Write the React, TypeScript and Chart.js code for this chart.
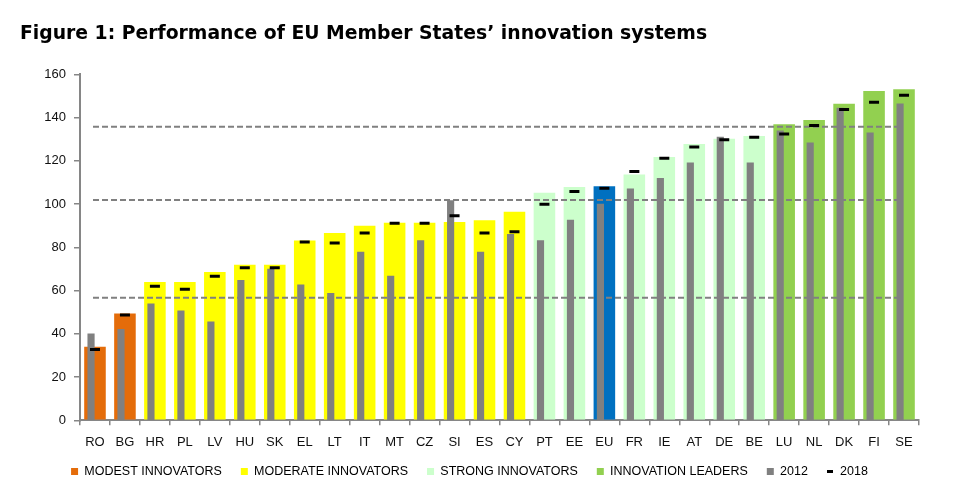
import React, { useEffect, useRef } from 'react';
import { Chart, registerables } from 'chart.js';

Chart.register(...registerables);

// ---- data ----
const categories = ['RO', 'BG', 'HR', 'PL', 'LV', 'HU', 'SK', 'EL', 'LT', 'IT', 'MT', 'CZ', 'SI', 'ES', 'CY', 'PT', 'EE', 'EU', 'FR', 'IE', 'AT', 'DE', 'BE', 'LU', 'NL', 'DK', 'FI', 'SE'];
const groups = ['modest', 'modest', 'moderate', 'moderate', 'moderate', 'moderate', 'moderate', 'moderate', 'moderate', 'moderate', 'moderate', 'moderate', 'moderate', 'moderate', 'moderate', 'strong', 'strong', 'eu', 'strong', 'strong', 'strong', 'strong', 'strong', 'leader', 'leader', 'leader', 'leader', 'leader'];
const performance = [34.0, 49.4, 64.0, 64.0, 68.6, 72.0, 72.0, 83.2, 86.6, 90.0, 91.4, 91.4, 91.7, 92.6, 96.5, 105.3, 107.9, 108.3, 113.7, 121.8, 127.8, 130.2, 131.5, 137.0, 138.9, 146.4, 152.3, 153.1];
const values2012 = [40.0, 42.1, 53.9, 50.7, 45.5, 64.7, 70.0, 62.7, 58.7, 77.8, 66.7, 83.2, 101.7, 77.8, 86.0, 83.2, 92.6, 100.0, 107.1, 111.9, 119.1, 131.0, 119.1, 133.9, 128.4, 144.4, 133.0, 146.4];
const values2018 = [32.8, 48.7, 62.0, 60.6, 66.7, 70.6, 70.6, 82.5, 82.0, 86.6, 91.2, 91.2, 94.6, 86.6, 87.2, 99.9, 105.9, 107.3, 115.1, 121.2, 126.4, 129.8, 131.0, 132.4, 136.4, 143.8, 147.1, 150.4];
const thresholds = [56.7, 101.9, 135.8];
const yTicks = [0, 20, 40, 60, 80, 100, 120, 140, 160];
const legendGroups = ['modest', 'moderate', 'strong', 'leader'];
const legendTexts = ['MODEST INNOVATORS', 'MODERATE INNOVATORS', 'STRONG INNOVATORS', 'INNOVATION LEADERS'];
const label2012 = '2012';
const label2018 = '2018';
const titleText = 'Figure 1: Performance of EU Member States\u2019 innovation systems';

// ---- styles ----
const groupColors: Record<string, string> = {
  modest: '#E46C0A',
  moderate: '#FFFF00',
  strong: '#CCFFCC',
  leader: '#92D050',
  eu: '#0070C0',
};
const grayColor = '#808080';
const axisColor = '#868686';
const textFont = "'Liberation Sans', Arial, sans-serif";
const grayShift = -0.24; // 2012 column sits at the left of the main column
const lineStart = -0.066;
const lineEnd = 26.93;

export default function App() {
  const canvasRef = useRef<HTMLCanvasElement | null>(null);

  useEffect(() => {
    const canvas = canvasRef.current;
    if (!canvas) return;

    const dashIcon = document.createElement('canvas');
    dashIcon.width = 6;
    dashIcon.height = 3;
    const dctx = dashIcon.getContext('2d');
    if (dctx) {
      dctx.fillStyle = '#000';
      dctx.fillRect(0, 0, 6, 3);
    }

    const thresholdSets = thresholds.map((t, i) => ({
      type: 'line' as const,
      label: 'threshold' + i,
      xAxisID: 'xg',
      yAxisID: 'y',
      data: [
        { x: lineStart, y: t },
        { x: lineEnd, y: t },
      ],
      borderColor: grayColor,
      borderWidth: 2,
      borderDash: [6, 3],
      pointRadius: 0,
      pointHoverRadius: 0,
      fill: false,
      order: 2,
    }));

    const chart = new Chart(canvas, {
      type: 'bar',
      data: {
        labels: categories,
        datasets: [
          {
            type: 'bar',
            label: 'performance',
            data: performance,
            backgroundColor: groups.map((g) => groupColors[g]),
            borderWidth: 0,
            grouped: false,
            barPercentage: 0.72,
            categoryPercentage: 1,
            xAxisID: 'x',
            order: 4,
          },
          {
            type: 'bar',
            label: label2012,
            data: values2012.map((v, i) => ({ x: i + grayShift, y: v })),
            backgroundColor: grayColor,
            borderWidth: 0,
            barThickness: 6.5,
            xAxisID: 'xg',
            order: 3,
          },
          ...thresholdSets,
          {
            type: 'line',
            label: label2018,
            data: values2018,
            xAxisID: 'x',
            showLine: false,
            pointStyle: 'line',
            pointRadius: 5,
            pointHoverRadius: 5,
            pointBorderWidth: 3,
            pointHoverBorderWidth: 3,
            pointBorderColor: '#000',
            pointBackgroundColor: '#000',
            borderColor: '#000',
            order: 1,
          },
        ] as any,
      },
      options: {
        responsive: false,
        animation: false,
        events: [],
        layout: { padding: { left: 20, right: 40, top: 0, bottom: 6.2 } },
        plugins: {
          tooltip: { enabled: false },
          title: {
            display: true,
            text: titleText,
            align: 'start',
            color: '#000',
            font: { family: "'DejaVu Sans', Verdana, sans-serif", size: 18.8, weight: 'bold' },
            padding: { top: 22.8, bottom: 29.1 },
          },
          legend: {
            display: true,
            position: 'bottom',
            onClick: () => {},
            labels: {
              usePointStyle: true,
              boxWidth: 7,
              boxHeight: 7,
              padding: 19,
              color: '#000',
              font: { family: textFont, size: 12.5 },
              generateLabels: () => [
                ...legendGroups.map((g, i) => ({
                  text: legendTexts[i],
                  fillStyle: groupColors[g],
                  strokeStyle: groupColors[g],
                  lineWidth: 0,
                  pointStyle: 'rect',
                  hidden: false,
                  datasetIndex: 0,
                })),
                {
                  text: label2012,
                  fillStyle: grayColor,
                  strokeStyle: grayColor,
                  lineWidth: 0,
                  pointStyle: 'rect',
                  hidden: false,
                  datasetIndex: 1,
                },
                {
                  text: label2018,
                  fillStyle: '#000',
                  strokeStyle: '#000',
                  lineWidth: 0,
                  pointStyle: dashIcon,
                  hidden: false,
                  datasetIndex: 5,
                },
              ] as any,
            },
          },
        },
        scales: {
          x: {
            type: 'category',
            offset: true,
            grid: {
              offset: true,
              drawOnChartArea: false,
              drawTicks: true,
              tickLength: 5,
              color: axisColor,
              lineWidth: 1.5,
            },
            border: { display: true, color: axisColor, width: 2 },
            ticks: {
              color: '#111',
              font: { family: textFont, size: 13 },
              padding: 9,
              autoSkip: false,
              maxRotation: 0,
            },
            afterFit: (scale: any) => {
              scale.height = 26;
            },
          },
          xg: {
            type: 'linear',
            display: false,
            offset: false,
            min: -0.5,
            max: categories.length - 0.5,
            grid: { display: false },
          },
          y: {
            type: 'linear',
            min: yTicks[0],
            max: yTicks[yTicks.length - 1],
            afterBuildTicks: (scale: any) => {
              scale.ticks = yTicks.map((v) => ({ value: v }));
            },
            grid: {
              drawOnChartArea: false,
              drawTicks: true,
              tickLength: 6,
              color: axisColor,
              lineWidth: 1.5,
            },
            border: { display: true, color: axisColor, width: 2 },
            ticks: {
              color: '#111',
              font: { family: textFont, size: 13 },
              padding: 8,
            },
            afterFit: (scale: any) => {
              scale.width = 60;
            },
          },
        },
      } as any,
    });

    return () => {
      chart.destroy();
    };
  }, []);

  return (
    <div style={{ position: 'absolute', left: 0, top: 0, width: 959, height: 494, background: '#fff' }}>
      <canvas ref={canvasRef} width={959} height={494} style={{ display: 'block' }} />
    </div>
  );
}
